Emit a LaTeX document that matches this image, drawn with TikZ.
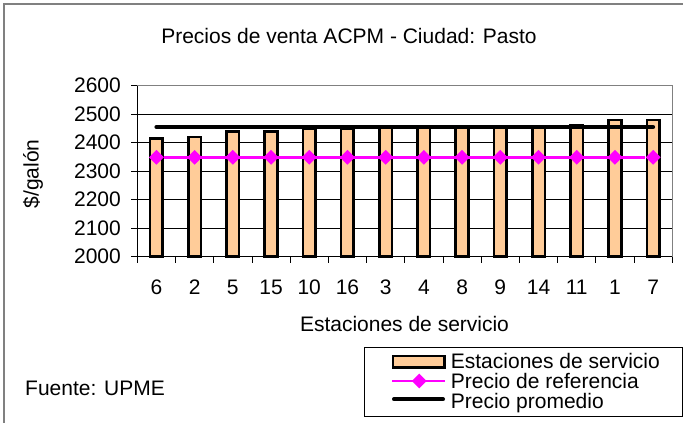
\documentclass[tikz,border=0pt]{standalone}
\usepackage{fontspec}
\setmainfont{Liberation Sans}
\usetikzlibrary{shapes.geometric}
\definecolor{barfill}{HTML}{FFCC99}
\definecolor{refpink}{HTML}{FF00FF}
\definecolor{framegray}{HTML}{808080}

\tikzset{
  lbl/.style={font=\fontsize{21}{24}\selectfont, inner sep=0pt},
  gridln/.style={black, line width=0.8pt},
  barbox/.style={draw=black, line width=2.6pt, fill=barfill},
  refln/.style={refpink, line width=2.5pt},
  refmark/.style={diamond, aspect=1, fill=refpink, inner sep=0pt, minimum width=15pt, minimum height=15pt},
  avgln/.style={black, line width=4pt, line cap=round}
}

\begin{document}
\begin{tikzpicture}[x=1pt, y=-1pt]
\useasboundingbox (0,0) rectangle (683,423);

% outer frame
\draw[framegray, line width=1.5pt] (4,423) -- (4,4) -- (683,4);
\node[lbl, anchor=base] (title) at (349,43.3) {Precios de venta ACPM - Ciudad: Pasto};

% grid lines and plot border
\foreach \k in {1,...,5}
  \draw[gridln] (137.3,{256.7-28.5*\k}) -- (672.3,{256.7-28.5*\k});
\draw[framegray, line width=1.5pt] (137.3,85.7) -- (672.3,85.7) -- (672.3,256.7);

% y axis labels
\foreach \v [count=\k from 0] in {2000,2100,...,2600}{
  \draw[gridln] (131,{256.7-28.5*\k}) -- (137.3,{256.7-28.5*\k});
  \node[lbl, anchor=east] (yval\k) at (121,{256.7-28.5*\k}) {\v};
}

% bars (one per station)
\foreach \stn/\val [count=\k from 0] in {6/2415,2/2420,5/2440,15/2440,10/2450,16/2450,3/2452,4/2452,8/2452,9/2452,14/2455,11/2462,1/2480,7/2480}{
  \pgfmathsetmacro\cx{137.3+38.21*(\k+0.5)}
  \pgfmathsetmacro\ytop{256.7-0.285*(\val-2000)}
  \draw[barbox] (\cx-6.3,256.7) rectangle (\cx+6.3,\ytop);
  \node[lbl, anchor=base] (stn\k) at (\cx,294) {\stn};
  \coordinate (avg\k) at (\cx,127);
  \coordinate (ref\k) at (\cx,157.3);
}

% average price
\draw[avgln] (avg0) -- (avg13);

% reference price
\foreach \k in {0,...,13}
  \node[refmark] (dm\k) at (ref\k) {};
\draw[refln] (dm0) -- (dm13);

% axes
\draw[black, line width=1pt] (137.3,85.7) -- (137.3,256.7) -- (672.3,256.7);
\foreach \k in {0,...,14}
  \draw[gridln] (137.3+38.21*\k,256.7) -- (137.3+38.21*\k,263);

\node[lbl, anchor=base] (xtitle) at (404.5,331) {Estaciones de servicio};
\node[lbl, rotate=90] (ytitle) at (33,174) {\$/galón};

% legend
\draw[black, line width=1pt] (364.3,347.7) rectangle (682.3,416);
\draw[barbox] (393,356) rectangle (444.3,367.5);
\draw[refln] (392.3,381) -- (445,381);
\node[refmark] (legdm) at (419.3,381) {};
\draw[avgln] (394,399.3) -- (443,399.3);
\node[lbl, anchor=base west] (legbar) at (450.7,368.5) {Estaciones de servicio};
\node[lbl, anchor=base west] (legref) at (450.7,388.5) {Precio de referencia};
\node[lbl, anchor=base west] (legavg) at (450.7,408.5) {Precio promedio};

\node[lbl, anchor=base west] (source) at (25,395) {Fuente: UPME};
\end{tikzpicture}
\end{document}
